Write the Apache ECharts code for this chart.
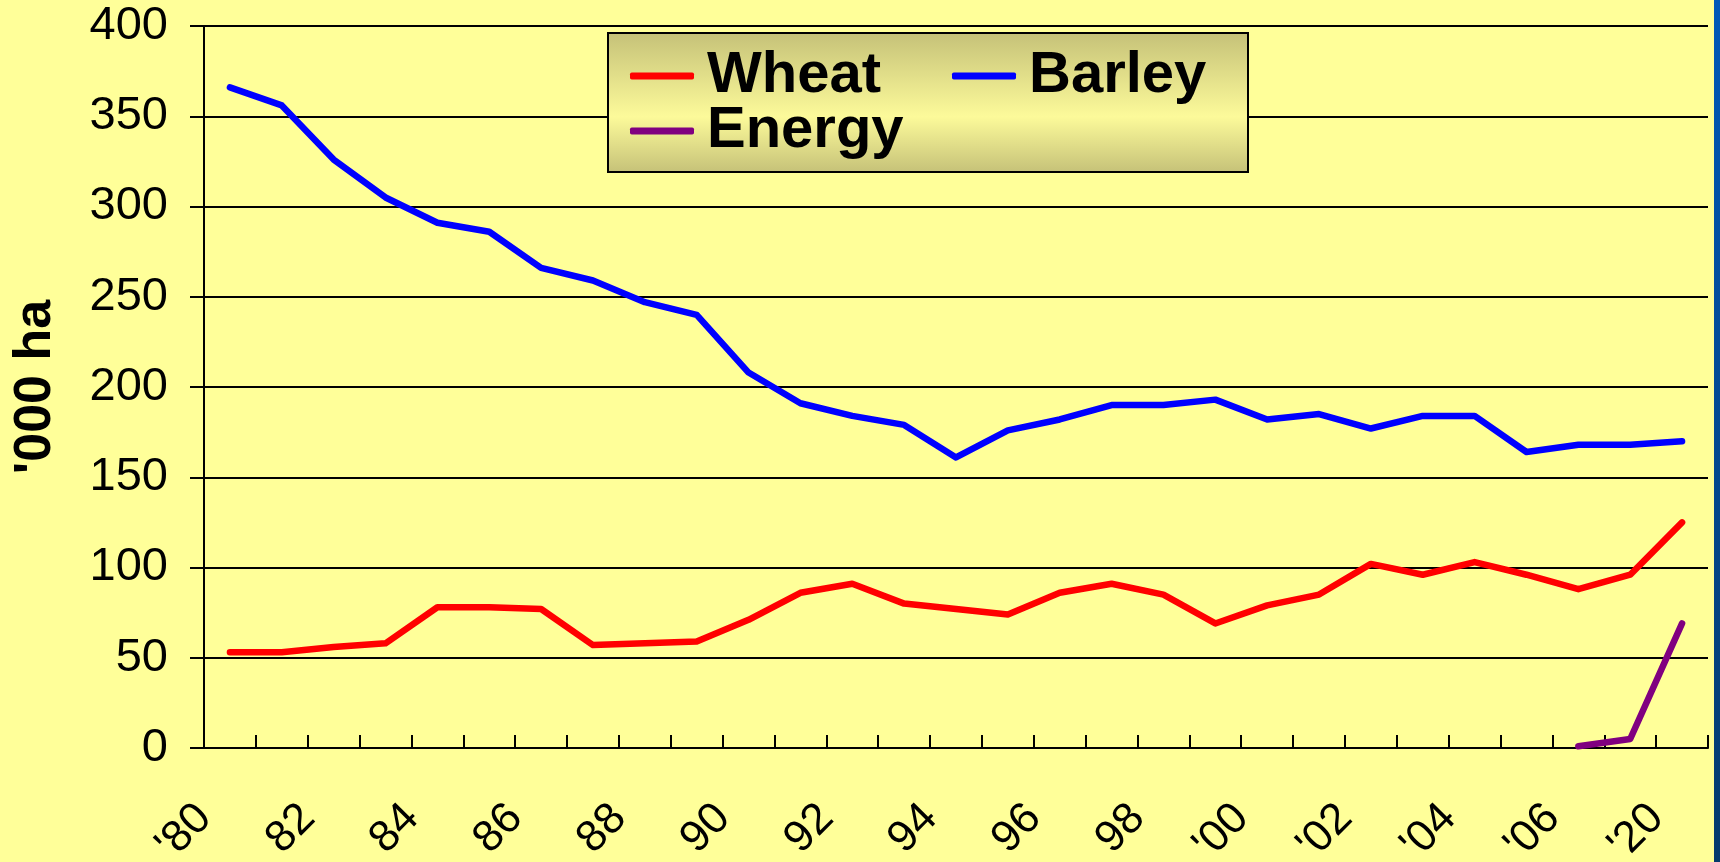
<!DOCTYPE html>
<html>
<head>
<meta charset="utf-8">
<title>Wheat / Barley / Energy area</title>
<script src="https://cdn.jsdelivr.net/npm/echarts@6/dist/echarts.min.js"></script>
<style>
  html, body { margin: 0; padding: 0; background: #ffff99; }
  #chart { width: 1720px; height: 862px; }
</style>
</head>
<body>
<div id="chart"></div>
<script>
// years on the x axis (only every other one gets a label)
const years = ["'80", "81", "82", "83", "84", "85", "86", "87", "88", "89",
  "90", "91", "92", "93", "94", "95", "96", "97", "98", "99",
  "'00", "'01", "'02", "'03", "'04", "'05", "'06", "'07", "'20"]

// '000 ha
const wheat = [53, 53, 56, 58, 78, 78, 77, 57, 58, 59,
  71, 86, 91, 80, 77, 74, 86, 91, 85, 69,
  79, 85, 102, 96, 103, 96, 88, 96, 125]
const barley = [366, 356, 326, 305, 291, 286, 266, 259, 247, 240,
  208, 191, 184, 179, 161, 176, 182, 190, 190, 193,
  182, 185, 177, 184, 184, 164, 168, 168, 170]
const energy = [null, null, null, null, null, null, null, null, null, null,
  null, null, null, null, null, null, null, null, null, null,
  null, null, null, null, null, null, 1, 5, 69]

const yTicks = { min: 0, max: 400, step: 50 }

const font = 'Liberation Sans, Arial, sans-serif'

function line(name, data, color) {
  return {
    name: name,
    type: 'line',
    data: data,
    symbol: 'none',
    color: color,
    lineStyle: { width: 6.5, color: color, cap: 'round', join: 'round' },
    z: 2
  }
}

// one legend per entry so each sits where it does in the picture
function legendAt(name, left, centerY) {
  return {
    data: [name],
    left: left,
    top: centerY - 30,
    padding: 0,
    icon: 'roundRect',
    itemWidth: 64,
    itemHeight: 7,
    itemGap: 12,
    z: 5,
    selectedMode: false,
    textStyle: {
      fontFamily: font,
      fontWeight: 'bold',
      fontSize: 58,
      lineHeight: 60,
      color: '#000',
      padding: [0, 0, 0, 8]
    }
  }
}

const chart = echarts.init(document.getElementById('chart'))
chart.setOption({
  animation: false,
  backgroundColor: '#ffff99',
  grid: { left: 204, right: 12, top: 26, bottom: 114, outerBoundsMode: 'none', containLabel: false },
  legend: [
    legendAt('Wheat', 630, 76),
    legendAt('Barley', 952, 76),
    legendAt('Energy', 630, 131)
  ],
  graphic: [
    {
      // legend box
      type: 'rect',
      z: 4,
      shape: { x: 608, y: 33, width: 640, height: 139 },
      style: {
        fill: {
          type: 'linear', x: 0, y: 0, x2: 0, y2: 1,
          colorStops: [
            { offset: 0, color: '#c5c178' },
            { offset: 0.6, color: '#fcfa9a' },
            { offset: 1, color: '#c5c178' }
          ]
        },
        stroke: '#000',
        lineWidth: 2
      }
    },
    {
      // slide edge on the right
      type: 'rect',
      z: 4,
      shape: { x: 1714, y: 0, width: 6, height: 862 },
      style: {
        fill: {
          type: 'linear', x: 0, y: 0, x2: 0, y2: 1,
          colorStops: [
            { offset: 0, color: '#0059b8' },
            { offset: 1, color: '#053a6c' }
          ]
        }
      }
    }
  ],
  xAxis: {
    type: 'category',
    data: years,
    boundaryGap: true,
    axisLine: { lineStyle: { color: '#000', width: 2 } },
    axisTick: { show: true, inside: true, length: 13, interval: 0, lineStyle: { color: '#000', width: 2 } },
    axisLabel: {
      interval: 1,
      rotate: 45,
      margin: 38,
      padding: [0, 36, 0, 0],
      fontFamily: font,
      fontSize: 44,
      color: '#000'
    },
    splitLine: { show: false }
  },
  yAxis: {
    type: 'value',
    min: yTicks.min,
    max: yTicks.max,
    interval: yTicks.step,
    name: "'000 ha",
    nameLocation: 'middle',
    nameGap: 142,
    nameRotate: 90,
    nameTextStyle: { fontFamily: font, fontWeight: 'bold', fontSize: 52, color: '#000' },
    axisLine: { show: true, lineStyle: { color: '#000', width: 2 } },
    axisTick: { show: true, inside: false, length: 14, lineStyle: { color: '#000', width: 2 } },
    axisLabel: { margin: 36, fontFamily: font, fontSize: 47, color: '#000' },
    splitLine: { show: true, lineStyle: { color: '#000', width: 2 } }
  },
  series: [
    line('Wheat', wheat, '#ff0000'),
    line('Barley', barley, '#0000ff'),
    line('Energy', energy, '#800080')
  ]
})
</script>
</body>
</html>
